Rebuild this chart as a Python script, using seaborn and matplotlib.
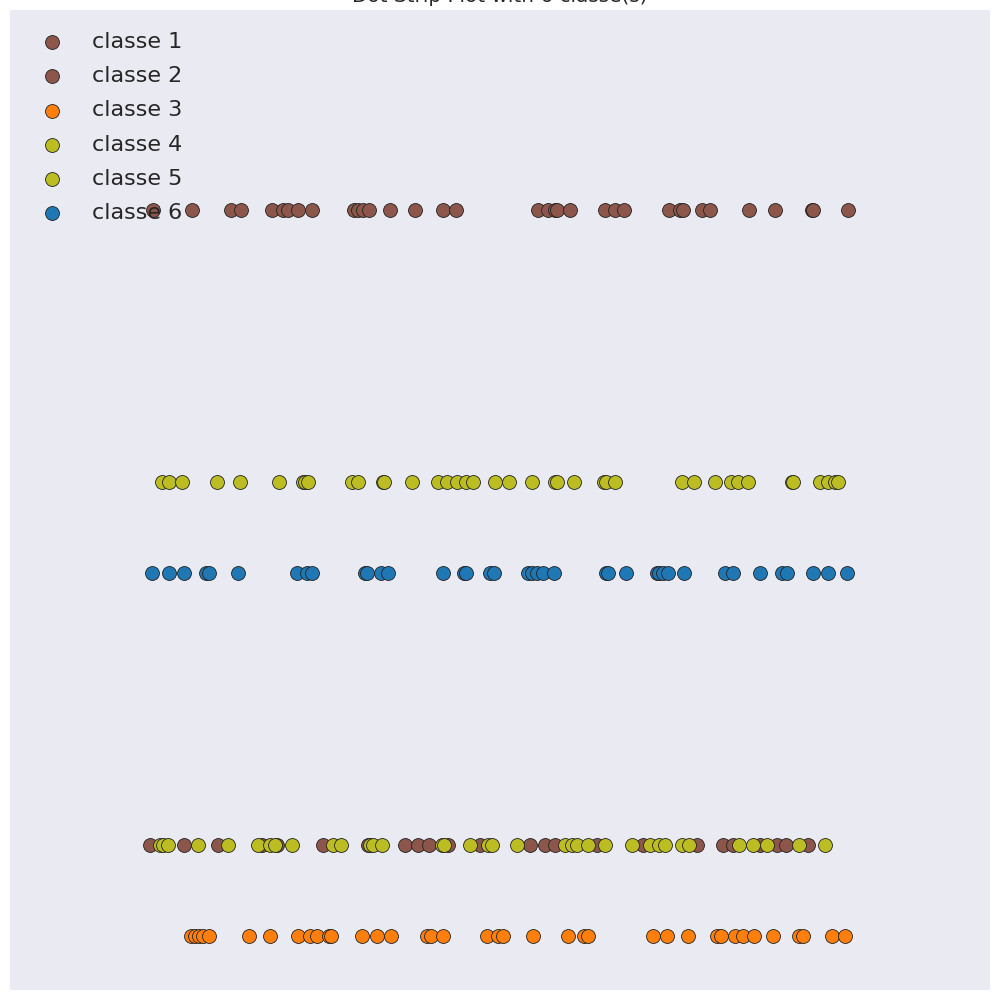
import matplotlib
matplotlib.use("Agg")
import matplotlib.pyplot as plt
import seaborn as sns
import pandas as pd

# ---- data (x values, y = strip level of each class) ----
classes = ["classe 1", "classe 2", "classe 3", "classe 4", "classe 5", "classe 6"]
colors = ["#8c564b", "#8c564b", "#ff7f0e", "#bcbd22", "#bcbd22", "#1f77b4"]
levels = [8, 1, 0, 5, 1, 4]

x_c1 = [153, 192, 231, 241, 272, 283, 288, 298, 312, 354, 358, 363, 369, 390, 415,
        443, 456, 538, 548, 555, 557, 570, 605, 615, 624, 669, 680, 683, 702, 710,
        749, 775, 812, 813, 848]
x_c2 = [150, 184, 218, 262, 277, 323, 368, 405, 418, 429, 448, 480, 530, 545, 555,
        597, 643, 697, 723, 733, 760, 777, 786, 808]
x_c3 = [191, 195, 199, 203, 209, 249, 270, 298, 310, 317, 329, 331, 362, 377, 391,
        427, 431, 443, 487, 498, 503, 533, 568, 584, 588, 653, 667, 688, 717, 721,
        735, 743, 754, 773, 799, 803, 832, 845]
x_c4 = [162, 169, 182, 217, 240, 279, 303, 305, 308, 352, 358, 383, 384, 412, 438,
        447, 457, 466, 473, 495, 509, 532, 555, 557, 574, 604, 606, 615, 682, 694,
        715, 731, 738, 748, 792, 793, 820, 828, 835, 838]
x_c5 = [160, 163, 168, 198, 228, 258, 270, 275, 292, 333, 341, 370, 373, 382, 442,
        444, 470, 488, 492, 517, 565, 572, 577, 588, 605, 632, 650, 659, 665, 682,
        689, 739, 753, 767, 799, 825]
x_c6 = [152, 169, 184, 206, 209, 238, 297, 307, 312, 365, 367, 381, 388, 443, 464,
        466, 490, 494, 528, 532, 537, 543, 554, 606, 608, 626, 657, 659, 663, 668,
        684, 725, 733, 760, 782, 787, 813, 828, 847]

series = [x_c1, x_c2, x_c3, x_c4, x_c5, x_c6]

sns.set_theme(style="darkgrid")
plt.rcParams['font.family'] = ['DejaVu Sans']

fig = plt.figure(figsize=(10, 10), dpi=100)
ax = fig.add_axes([0.01, 0.01, 0.98, 0.98])

for name, col, lev, xs in zip(classes, colors, levels, series):
    df = pd.DataFrame({"x": xs, "y": [lev] * len(xs)})
    sns.scatterplot(data=df, x="x", y="y", color=col, s=100, edgecolor="#222222",
                    linewidth=0.6, ax=ax, label=name, zorder=3)

ax.set_xlim(10, 990)
ax.set_ylim(-0.595, 10.2)
ax.set_xticks([])
ax.set_yticks([])
ax.set_xlabel("")
ax.set_ylabel("")
for sp in ax.spines.values():
    sp.set_visible(False)
ax.set_title("Dot Strip Plot with 6 classe(s)", fontsize=14.4)
ax.legend(loc="upper left", bbox_to_anchor=(0, 0.998), frameon=False, fontsize=16,
          labelspacing=0.64, borderaxespad=0.5)

fig.savefig("out.png", dpi=100)
